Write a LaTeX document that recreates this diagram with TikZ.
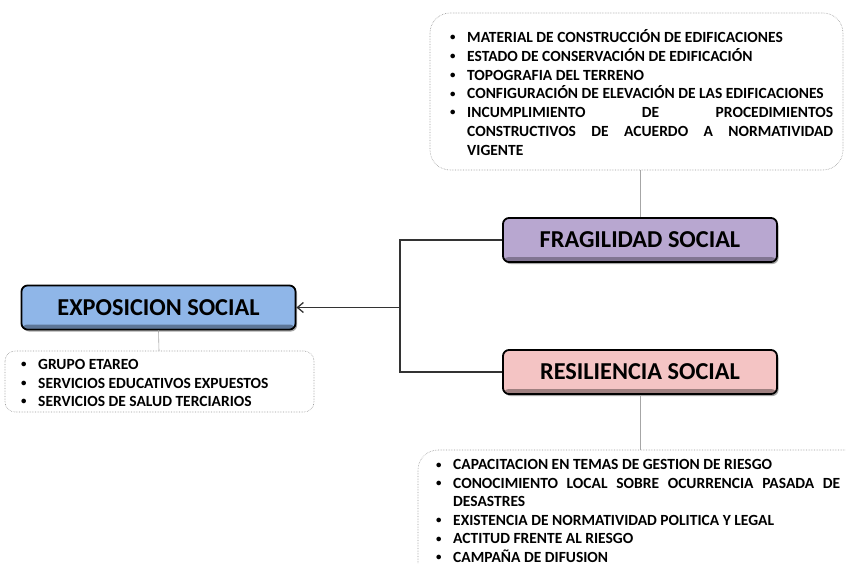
\documentclass[tikz,border=0pt]{standalone}
\usepackage{fontspec}
\setmainfont{Carlito}
\usetikzlibrary{arrows.meta,shadows}
\definecolor{fragfill}{HTML}{B8A7D0}
\definecolor{resfill}{HTML}{F4C4C4}
\definecolor{expfill}{HTML}{8FB6E8}
\definecolor{linegray}{HTML}{333333}
\newcommand\bitem[1]{\par\noindent\hangindent=18pt\hangafter=1\makebox[18pt][l]{\hspace*{1pt}\raisebox{0.12em}{\scalebox{0.7}{\textbullet}}}#1}
\newcommand\nohyph{\hyphenpenalty=10000\exhyphenpenalty=10000\tolerance=9999\emergencystretch=3em}
\tikzset{
  mainbox/.style={draw=black, line width=1.8pt, rounded corners=6pt, minimum width=274pt, minimum height=44pt,
    font=\fontsize{24.3}{26}\selectfont\bfseries, inner sep=0pt,
    drop shadow={shadow xshift=1.5pt, shadow yshift=-2pt, opacity=0.35, fill=black}},
  band/.style={path picture={\fill[#1] ([yshift=1pt]path picture bounding box.south west) rectangle ([yshift=5pt]path picture bounding box.south east);}},
  listbox/.style={draw=gray!80, densely dotted, line width=0.6pt},
  listtext/.style={anchor=north west, inner sep=0pt, align=justify, font=\fontsize{15.5}{18.8}\selectfont\bfseries\nohyph},
  link/.style={draw=gray!70, line width=0.6pt},
  conn/.style={draw=linegray, line width=1.3pt},
}
\begin{document}
\begin{tikzpicture}[x=1pt,y=-1pt]
\useasboundingbox (0,0) rectangle (846,564);
\clip (0,0) rectangle (846,564);
% list boxes
\draw[listbox, rounded corners=20pt] (430,13) rectangle (843,170);
\node[listtext, text width=384pt] (toptext) at (449,23.5) {%
\bitem{MATERIAL DE CONSTRUCCIÓN DE EDIFICACIONES}
\bitem{ESTADO DE CONSERVACIÓN DE EDIFICACIÓN}
\bitem{TOPOGRAFIA DEL TERRENO}
\bitem{CONFIGURACIÓN DE ELEVACIÓN DE LAS EDIFICACIONES}
\bitem{INCUMPLIMIENTO DE PROCEDIMIENTOS CONSTRUCTIVOS DE ACUERDO A NORMATIVIDAD VIGENTE}\par};
\coordinate (topb) at (640,170);

\draw[listbox, rounded corners=10pt] (5,351) rectangle (314,412);
\coordinate (leftb) at (159,351);
\node[listtext, text width=290pt, font=\fontsize{15.5}{18.5}\selectfont\bfseries\nohyph] (lefttext) at (20,351) {%
\bitem{GRUPO ETAREO}
\bitem{SERVICIOS EDUCATIVOS EXPUESTOS}
\bitem{SERVICIOS DE SALUD TERCIARIOS}\par};

\draw[listbox, rounded corners=20pt] (418,600) -- (418,450) -- (880,450);
\coordinate (botb) at (640,450);
\node[listtext, text width=405pt, font=\fontsize{15.5}{18.5}\selectfont\bfseries\nohyph] (bottext) at (435,451.2) {%
\bitem{CAPACITACION EN TEMAS DE GESTION DE RIESGO}
\bitem{CONOCIMIENTO LOCAL SOBRE OCURRENCIA PASADA DE DESASTRES}
\bitem{EXISTENCIA DE NORMATIVIDAD POLITICA Y LEGAL}
\bitem{ACTITUD FRENTE AL RIESGO}
\bitem{CAMPAÑA DE DIFUSION}\par};

% main boxes
\node[mainbox, fill=fragfill, band=fragfill!70!black] (frag) at (640,240) {FRAGILIDAD SOCIAL};
\node[mainbox, fill=resfill, band=resfill!65!black] (res) at (640,372) {RESILIENCIA SOCIAL};
\node[mainbox, fill=expfill, band=expfill!65!black] (expo) at (158.5,307.5) {EXPOSICION SOCIAL};

% links to lists
\draw[link] (frag.north) -- (topb);
\draw[link] (res.south) -- (botb);
\draw[link] (expo.south) -- (leftb);

% connectors
\coordinate (j) at (400,307.5);
\draw[conn] (frag.west) -| (j) |- (res.west);
\draw[conn, -{Straight Barb[length=6pt,width=10pt]}] (j) -- (expo.east);
\end{tikzpicture}
\end{document}
